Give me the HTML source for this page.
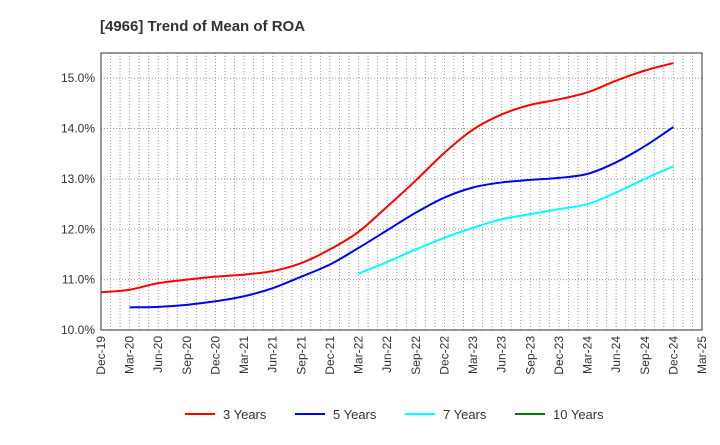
<!DOCTYPE html>
<html><head><meta charset="utf-8"><style>
body{margin:0;background:#fff;font-family:"Liberation Sans",sans-serif}
svg text{font-family:"Liberation Sans",sans-serif;fill:#333}
</style></head><body>
<svg width="720" height="440" id="c">
<text x="100" y="31" font-size="15" font-weight="bold">[4966]  Trend of Mean of ROA</text>
<g id="grid"></g><g id="axes"></g><g id="lines"></g><g id="legend"></g>
</svg>
<script>
const xLabels=["Dec-19","Mar-20","Jun-20","Sep-20","Dec-20","Mar-21","Jun-21","Sep-21","Dec-21","Mar-22","Jun-22","Sep-22","Dec-22","Mar-23","Jun-23","Sep-23","Dec-23","Mar-24","Jun-24","Sep-24","Dec-24","Mar-25"];
const yTicks=[10,11,12,13,14,15];
const seriesNames=["3 Years","5 Years","7 Years","10 Years"];
const seriesColors=["#ff0000","#0000ff","#00ffff","#008000"];
const s3=[10.75,10.8,10.93,11.0,11.06,11.1,11.17,11.33,11.6,11.95,12.45,12.97,13.52,13.98,14.28,14.47,14.58,14.72,14.95,15.15,15.3];
const s5=[null,10.45,10.46,10.5,10.57,10.67,10.83,11.06,11.3,11.63,11.98,12.33,12.63,12.83,12.93,12.98,13.02,13.1,13.33,13.65,14.03];
const s7=[null,null,null,null,null,null,null,null,null,11.12,11.35,11.6,11.83,12.03,12.2,12.3,12.4,12.5,12.73,13.0,13.25];
const s10=[];
const L=101,R=702,T=53,B=330,ymin=10,ymax=15.5;
const NS="http://www.w3.org/2000/svg";
const X=i=>L+(R-L)*i/(xLabels.length-1);
const Y=v=>B-(B-T)*(v-ymin)/(ymax-ymin);
function mk(t,p,a){const e=document.createElementNS(NS,t);for(const k in a)e.setAttribute(k,a[k]);p.appendChild(e);return e;}
const grid=document.getElementById('grid'),axes=document.getElementById('axes'),lines=document.getElementById('lines'),legend=document.getElementById('legend');
const nm=(xLabels.length-1)*3;
for(let m=1;m<nm;m++){const x=L+(R-L)*m/nm;
const g=mk('line',grid,{x1:x,x2:x,y1:T,y2:B,stroke:'#999','stroke-dasharray':'1,2','stroke-width':1});

}
yTicks.forEach(v=>{const y=Y(v);
const g=mk('line',grid,{x1:L,x2:R,y1:y,y2:y,stroke:'#999','stroke-dasharray':'1,2'});


const t=mk('text',axes,{x:L-6,y:y+4,'text-anchor':'end','font-size':12});t.textContent=v.toFixed(1)+'%';

});
const fr=mk('rect',axes,{x:L,y:T,width:R-L,height:B-T,fill:'none',stroke:'#333'});


xLabels.forEach((l,i)=>{const x=X(i);
const t=mk('text',axes,{transform:`translate(${x+4},${B+6}) rotate(-90)`,'text-anchor':'end','font-size':12});t.textContent=l;

});
function path(arr){const p=[];arr.forEach((v,i)=>{if(v!=null)p.push([X(i),Y(v)]);});
if(p.length<2)return '';let d=`M${p[0][0]},${p[0][1]}`;
for(let i=0;i<p.length-1;i++){const p0=p[Math.max(0,i-1)],p1=p[i],p2=p[i+1],p3=p[Math.min(p.length-1,i+2)];
d+=` C${p1[0]+(p2[0]-p0[0])/6},${p1[1]+(p2[1]-p0[1])/6} ${p2[0]-(p3[0]-p1[0])/6},${p2[1]-(p3[1]-p1[1])/6} ${p2[0]},${p2[1]}`;}return d;}
[s3,s5,s7,s10].forEach((s,k)=>{const d=path(s);if(!d)return;
const e=mk('path',lines,{d:d,fill:'none',stroke:seriesColors[k],'stroke-width':2});

});
seriesNames.forEach((n,k)=>{const x0=185+110*k;
const l=mk('line',legend,{x1:x0,x2:x0+30,y1:414,y2:414,stroke:seriesColors[k],'stroke-width':2});


const t=mk('text',legend,{x:x0+38,y:419,'font-size':13});t.textContent=n;

});
</script>
</body></html>
